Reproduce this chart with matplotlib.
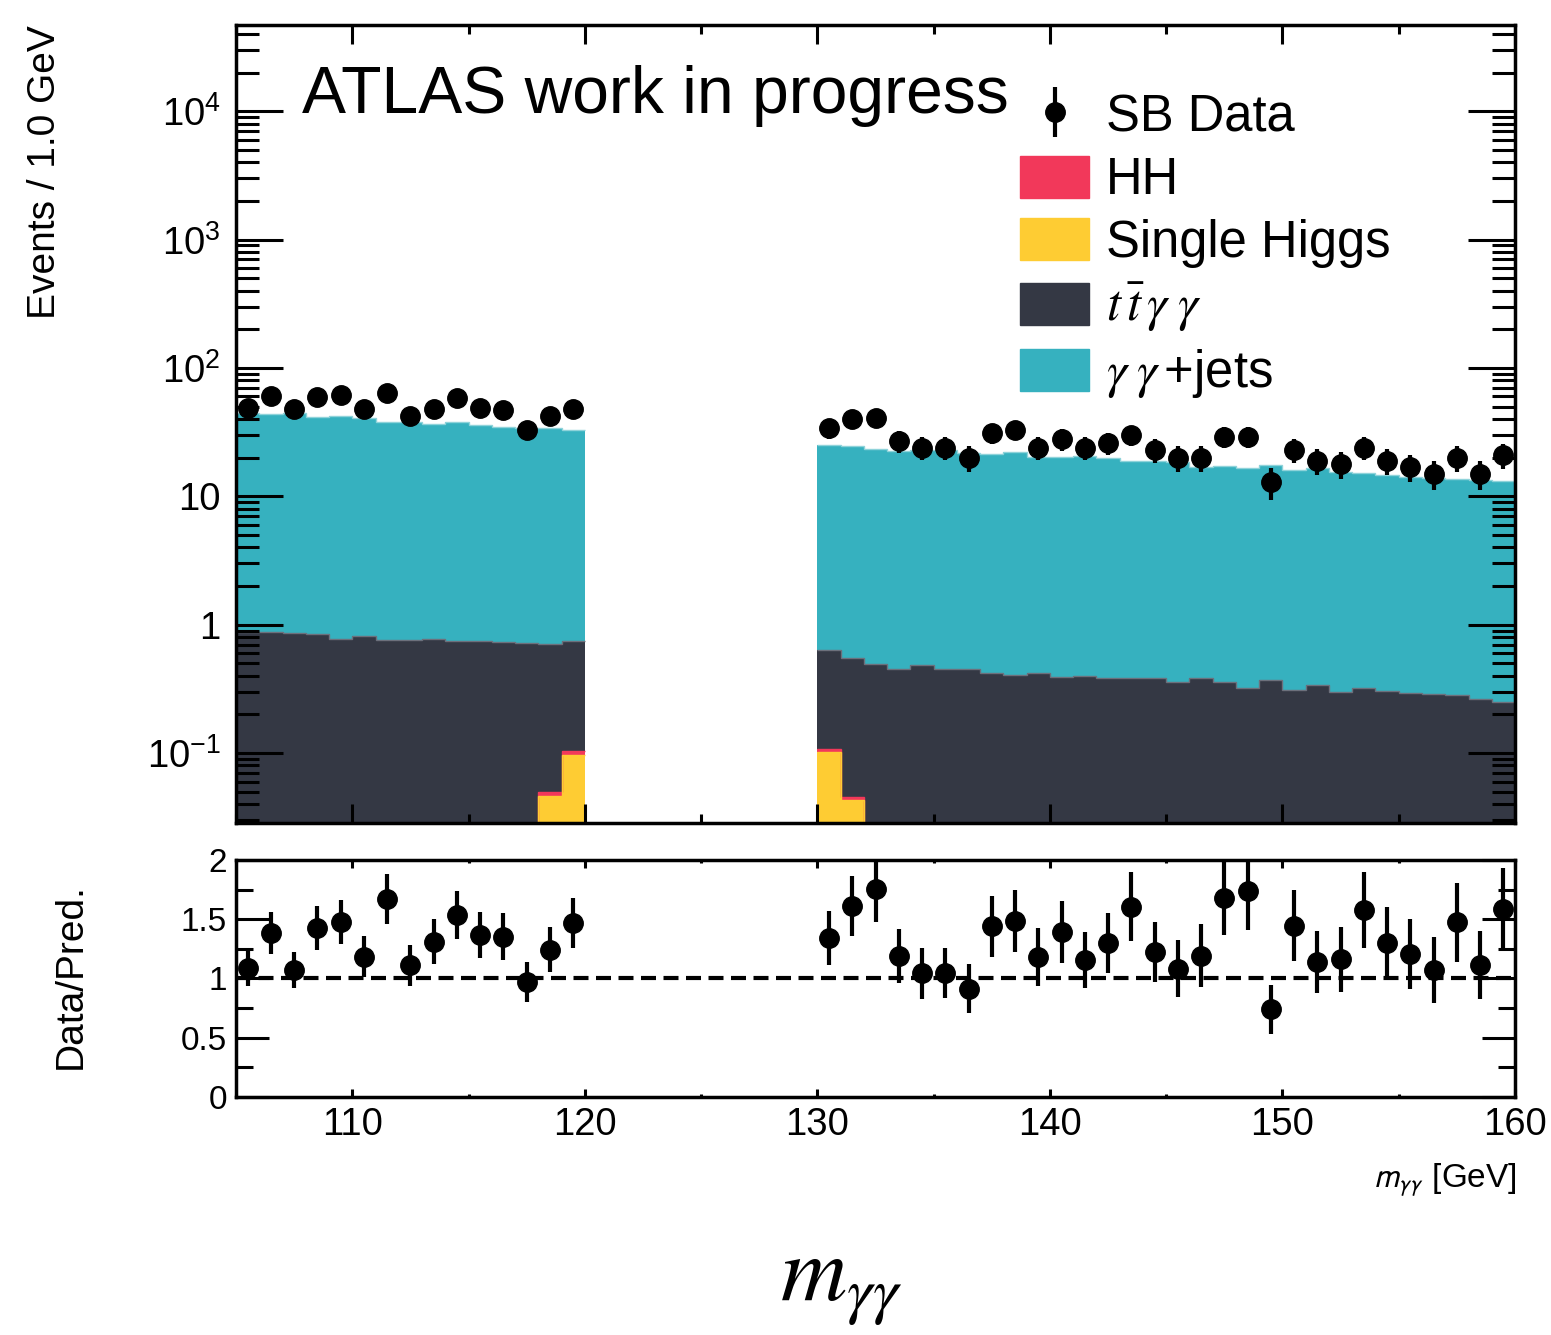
"""m_yy sideband plot: stacked backgrounds vs SB data with ratio panel."""

import numpy as np
import matplotlib

matplotlib.use("Agg")
import matplotlib.pyplot as plt
from matplotlib.patches import Patch
from matplotlib.ticker import LogLocator, MultipleLocator, NullFormatter

plt.rcParams["font.family"] = ["Liberation Sans", "DejaVu Sans"]
plt.rcParams["mathtext.fontset"] = "stix"

# 1 GeV bins, signal region 120-130 blinded
edges_lo = np.arange(105, 121)
edges_hi = np.arange(130, 161)

data_lo = [49, 61, 48, 59, 62, 48, 64, 42, 48, 58, 49, 47, 33, 42, 48]
data_hi = [34, 40, 41, 27, 24, 24, 20, 31, 33, 24, 28, 24, 26, 30, 23,
           20, 20, 29, 29, 13, 23, 19, 18, 24, 19, 17, 15, 20, 15, 21]

yyjets_lo = [44.1, 43.3, 43.9, 40.5, 41.2, 39.7, 37.5, 37.0, 35.9, 37.0,
             35.1, 34.0, 33.3, 33.1, 32.0]
yyjets_hi = [24.7, 24.3, 22.9, 22.2, 22.5, 22.5, 21.4, 21.1, 21.8, 19.9,
             19.7, 20.4, 19.6, 18.3, 18.4, 18.1, 16.4, 16.9, 16.4, 17.2,
             15.6, 16.3, 15.2, 14.9, 14.3, 13.8, 13.7, 13.3, 13.2, 13.0]

ttyy_lo = [0.88, 0.877, 0.86, 0.85, 0.78, 0.81, 0.755, 0.76, 0.77, 0.74,
           0.745, 0.73, 0.715, 0.66, 0.645]
ttyy_hi = [0.526, 0.50, 0.493, 0.454, 0.488, 0.448, 0.451, 0.422, 0.407, 0.420,
           0.388, 0.398, 0.384, 0.384, 0.381, 0.359, 0.384, 0.357, 0.321, 0.370,
           0.308, 0.338, 0.300, 0.323, 0.302, 0.295, 0.288, 0.281, 0.263, 0.248]

higgs_lo = [0] * 13 + [0.0464, 0.0968]
higgs_hi = [0.101, 0.0432] + [0] * 28
hh_lo = [0] * 13 + [0.0031, 0.0067]
hh_hi = [0.007, 0.0023] + [0] * 28

C_HH = "#f2385a"
C_SH = "#fecc33"
C_TT = "#343844"
C_YY = "#36b1bf"

FLOOR = 1e-3


def draw_stack(ax, edges, yy, tt, sh, hh):
    sh = np.asarray(sh, float)
    c_hh = sh + np.asarray(hh, float)
    c_tt = c_hh + np.asarray(tt, float)
    c_all = c_tt + np.asarray(yy, float)
    for vals, col, ec in [(c_all, C_YY, "#8fd3da"), (c_tt, C_TT, "#6c707c"),
                          (c_hh, C_HH, C_HH), (sh, C_SH, C_SH)]:
        ax.stairs(np.clip(vals, FLOOR, None), edges, baseline=FLOOR, fill=True,
                  facecolor=col, edgecolor=col, linewidth=0, zorder=1)
        ax.stairs(np.clip(vals, FLOOR, None), edges, baseline=None,
                  color=ec, linewidth=1.0, zorder=1.5)
    return c_all


fig = plt.figure(figsize=(15.51, 13.35), dpi=100)
ax = fig.add_axes([0.1522, 0.3835, 0.8246, 0.5978])
rax = fig.add_axes([0.1522, 0.1783, 0.8246, 0.1775])

tot_lo = draw_stack(ax, edges_lo, yyjets_lo, ttyy_lo, higgs_lo, hh_lo)
tot_hi = draw_stack(ax, edges_hi, yyjets_hi, ttyy_hi, higgs_hi, hh_hi)

mk = dict(fmt="o", color="black", markersize=14, elinewidth=3, capsize=0, zorder=5)
h_data = None
for edges, data, tot in [(edges_lo, data_lo, tot_lo), (edges_hi, data_hi, tot_hi)]:
    x = 0.5 * (edges[:-1] + edges[1:])
    d = np.asarray(data, float)
    h_data = ax.errorbar(x, d, yerr=np.sqrt(d), **mk)
    rax.errorbar(x, d / tot, yerr=np.sqrt(d) / tot, clip_on=True, **mk)

# upper panel axes
ax.set_yscale("log")
ax.set_xlim(105, 160)
ax.set_ylim(0.0285, 4.7e4)
ax.set_yticks([0.1, 1, 10, 100, 1000, 1e4])
ax.set_yticklabels([r"$\mathregular{10^{-1}}$", "1", "10", r"$\mathregular{10^{2}}$",
                    r"$\mathregular{10^{3}}$", r"$\mathregular{10^{4}}$"])
ax.yaxis.set_minor_locator(LogLocator(base=10, subs=np.arange(2, 10), numticks=100))
ax.yaxis.set_minor_formatter(NullFormatter())
ax.xaxis.set_major_locator(MultipleLocator(10))
ax.xaxis.set_minor_locator(MultipleLocator(5))
ax.tick_params(axis="both", which="both", direction="in", top=True, right=True,
               labelbottom=False, width=2.2, labelsize=27.5)
ax.tick_params(axis="y", which="major", length=34, pad=11)
ax.tick_params(axis="y", which="minor", length=16.5)
ax.tick_params(axis="x", which="major", length=13.7)
ax.tick_params(axis="x", which="minor", length=6.5)
for s in ax.spines.values():
    s.set_linewidth(2.5)

# ratio panel
rax.axhline(1.0, color="black", linewidth=3, linestyle=(0, (3.6, 1.8)), zorder=2)
rax.set_xlim(105, 160)
rax.set_ylim(0, 2)
rax.set_yticks([0, 0.5, 1, 1.5, 2])
rax.set_yticklabels(["0", "0.5", "1", "1.5", "2"])
rax.yaxis.set_minor_locator(MultipleLocator(0.25))
rax.xaxis.set_major_locator(MultipleLocator(10))
rax.xaxis.set_minor_locator(MultipleLocator(5))
rax.tick_params(axis="both", which="both", direction="in", top=True, right=True, width=2.2)
rax.tick_params(axis="y", which="major", length=24, pad=6.5, labelsize=24)
rax.tick_params(axis="y", which="minor", length=12)
rax.tick_params(axis="x", which="major", length=6, pad=7, labelsize=27.5)
rax.tick_params(axis="x", which="minor", length=2.5)
for s in rax.spines.values():
    s.set_linewidth(2.5)

# legend and labels
handles = [h_data, Patch(color=C_HH), Patch(color=C_SH), Patch(color=C_TT), Patch(color=C_YY)]
labels = ["SB Data", "HH", "Single Higgs", r"$t\,\bar{t}\,\gamma\;\gamma$",
          r"$\gamma\;\gamma\,$+jets"]
ax.legend(handles, labels, loc="upper left", bbox_to_anchor=(0.613, 0.915),
          frameon=False, fontsize=36.5, handlelength=1.36, handleheight=0.9,
          handletextpad=0.34, labelspacing=0.26, borderpad=0, borderaxespad=0)

ax.text(0.0516, 0.8897, "ATLAS work in progress", transform=ax.transAxes,
        fontsize=47.5, ha="left", va="baseline")

fig.text(45 / 1551, 1 - 25 / 1335, "Events / 1.0 GeV", rotation=90,
         ha="center", va="top", fontsize=28)
fig.text(71 / 1551, 1 - 976 / 1335, "Data/Pred.", rotation=90,
         ha="center", va="center", fontsize=28)
fig.text(1517 / 1551, 1 - 1187 / 1335, r"$m_{\gamma\gamma}$ [GeV]", ha="right",
         va="baseline", fontsize=24, math_fontfamily="stixsans")
fig.text(780 / 1551, 1 - 1300 / 1335, r"$m_{\gamma\gamma}$", ha="left",
         va="baseline", fontsize=66)

fig.savefig("out.png", dpi=100)
